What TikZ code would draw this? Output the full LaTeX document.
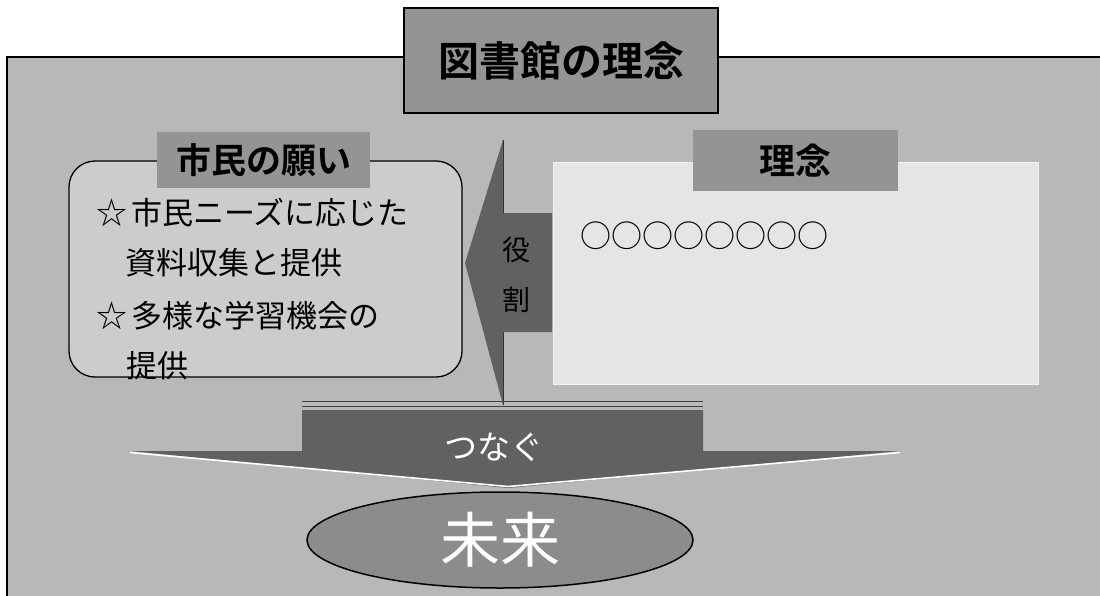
\documentclass[tikz,border=0pt]{standalone}
\usepackage{fontspec}
\setmainfont{Noto Sans CJK JP}[BoldFont={Noto Sans CJK JP Bold}]
\usetikzlibrary{shapes.geometric}
\tikzset{
  bgfill/.style={fill=black!28},
  midbox/.style={fill=black!42, inner sep=0pt},
  darkfill/.style={fill=black!62},
  txt/.style={inner sep=0pt, font=\fontsize{31}{31}\selectfont},
}
\begin{document}
\begin{tikzpicture}[x=1pt,y=-1pt]
\useasboundingbox (0,0) rectangle (1100,595);
\clip (0,0) rectangle (1100,595);
\fill[white] (0,0) rectangle (1100,595);
% outer frame
\draw[line width=1.5pt, bgfill] (7,57) rectangle (1120,620);
% title
\node[midbox, draw=black, line width=1.3pt, minimum width=314pt, minimum height=105pt,
      font=\bfseries\fontsize{41}{41}\selectfont] (title) at (561,60.5) {図書館の理念};
% right box (ideal)
\node[fill=black!10, draw=black!5, line width=1pt, minimum width=485pt, minimum height=222pt] (ideal) at (795.5,273) {};
\node[midbox, minimum width=205pt, minimum height=61pt,
      font=\bfseries\fontsize{36}{36}\selectfont] (ideallabel) at (795.5,160.5) {理念};
\node[txt, anchor=west] (circles) at (580,236) {○○○○○○○○};
% left rounded box (wish)
\node[draw=black, line width=1.3pt, fill=black!20, rounded corners=26pt,
      minimum width=393pt, minimum height=216pt] (wish) at (265.5,269) {};
\node[midbox, minimum width=213pt, minimum height=56pt,
      font=\bfseries\fontsize{35}{35}\selectfont] (wishlabel) at (263.5,160) {市民の願い};
\node[txt, anchor=west] (w1) at (96,213) {☆\hspace{4pt}市民ニーズに応じた};
\node[txt, anchor=west] (w2) at (125,263) {資料収集と提供};
\node[txt, anchor=west] (w3) at (96,316) {☆\hspace{4pt}多様な学習機会の};
\node[txt, anchor=west] (w4) at (126,366) {提供};
% role arrow (pointing left)
\coordinate (rtip) at (465,263);
\fill[darkfill] (552,213) -- (503,213) -- (503,140) -- (rtip) -- (503,405) -- (503,332) -- (552,332) -- cycle;
\draw[black!80, line width=0.8pt] (503,140) -- (503,213) (503,332) -- (503,405);
\node[inner sep=0pt, font=\fontsize{28}{28}\selectfont] (role1) at (516,250) {役};
\node[inner sep=0pt, font=\fontsize{28}{28}\selectfont] (role2) at (516,300) {割};
% connect arrow (pointing down)
\draw[black!75, line width=0.9pt] (302,401) -- (703,401) (302,406) -- (703,406);
\coordinate (dtip) at (508,488);
\fill[darkfill] (302,410) -- (703,410) -- (703,451) -- (900,451) -- (dtip) -- (130,451) -- (302,451) -- cycle;
\draw[white, line width=1.6pt] (130,452.5) -- ([yshift=1.5pt]dtip) -- (900,452.5);
\node[inner sep=0pt, text=white, font=\fontsize{33}{33}\selectfont] (connect) at (494,447) {つなぐ};
% future ellipse
\node[ellipse, draw=black, line width=1.5pt, fill=black!45, inner sep=0pt,
      minimum width=386pt, minimum height=96pt, text=white,
      font=\fontsize{60}{60}\selectfont] (future) at (500,540) {未来};
\end{tikzpicture}
\end{document}
